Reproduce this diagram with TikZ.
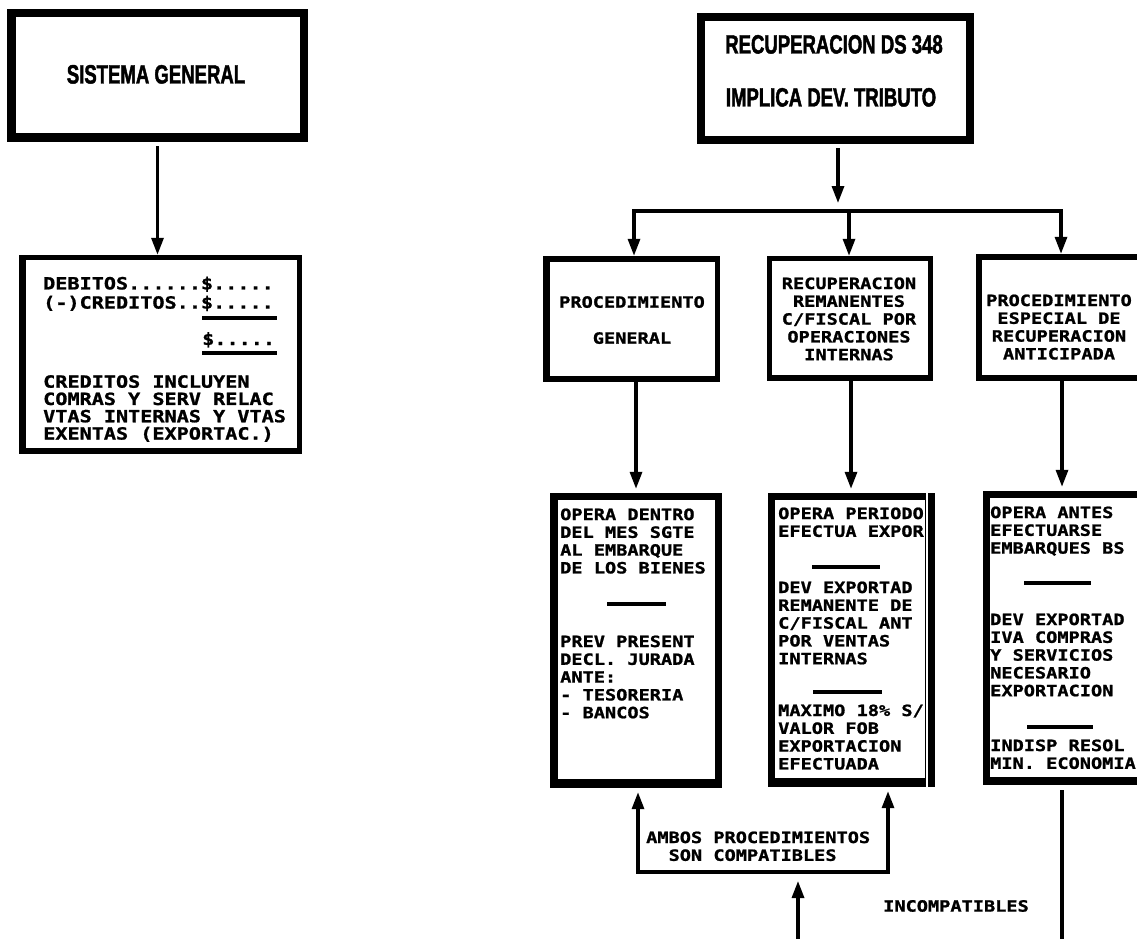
\documentclass[tikz,border=0pt]{standalone}
\usepackage{fontspec}
\usetikzlibrary{arrows.meta,fit,calc}
\newfontfamily\monof[FakeStretch=1.2,FakeBold=1.2]{DejaVu Sans Mono}
\newfontfamily\titlef[FakeStretch=0.7,FakeBold=1.6]{Liberation Sans}
% name, x1, y1, x2, y2, left, top, right, bottom border widths
\newcommand\tkbox[9]{%
  \fill[frame] (#2,#3) rectangle (#4,#5);
  \fill[inside] (#2+#6,#3+#7) rectangle (#4-#8,#5-#9);
  \node[fit={(#2,#3)(#4,#5)}, inner sep=0pt] (#1) {};
}
\tikzset{
  frame/.style={fill=black},
  inside/.style={fill=white},
  conn/.style={line width=3.2pt},
  arr/.style={conn, -{Triangle[length=17pt,width=12pt]}},
  rulebar/.style={line width=3.2pt},
  mono/.style={font=\monof\bfseries\fontsize{15.5}{17.8}\selectfont, inner sep=0pt},
  monobig/.style={font=\monof\bfseries\fontsize{16.8}{17.3}\selectfont, inner sep=0pt},
  titletext/.style={font=\titlef\bfseries\fontsize{26.5}{30}\selectfont, inner sep=0pt}
}
\begin{document}
\begin{tikzpicture}[x=1pt,y=-1pt]
\useasboundingbox (0,0) rectangle (1137,939);
\clip (0,0) rectangle (1137,939);
\fill[white] (0,0) rectangle (1137,939);

% ---------- boxes ----------
\tkbox{sg}{7}{9}{308}{142}{9}{8}{8}{9}
\tkbox{deb}{19}{255}{302}{454}{7}{5}{5}{6}
\tkbox{top}{697}{13}{974}{144}{8}{8}{8}{8}
\tkbox{l2a}{543}{256}{720}{382}{7}{6}{5}{6}
\tkbox{l2b}{767}{256}{933}{381}{5}{5}{5}{6}
\tkbox{l2c}{976}{254}{1150}{381}{6}{6}{6}{6}
\tkbox{l3a}{550}{493}{722}{788}{8}{7}{7}{9}
\tkbox{l3b}{768}{493}{935}{787}{7}{7}{10}{9}
\tkbox{l3c}{983}{491}{1150}{785}{7}{7}{7}{8}
\draw[white, line width=1.5pt] (927,493) -- (927,787);

% ---------- texts ----------
\node[titletext, anchor=base] (sgt) at (156,83.5) {SISTEMA GENERAL};
\node[titletext, anchor=base] (tt1) at (834,53.5) {RECUPERACION DS 348};
\node[titletext, anchor=base] (tt2) at (831,106.5) {IMPLICA DEV. TRIBUTO};

\node[monobig, anchor=base west] (d1) at (43,289.4) {DEBITOS......\$.....};
\node[monobig, anchor=base west] (d2) at (43,308.6) {(-)CREDITOS..\$.....};
\draw[rulebar] (202,318) -- (277,318);
\node[monobig, anchor=base west] (d3) at (202,345) {\$.....};
\draw[rulebar] (202,353) -- (277,353);
\node[monobig, anchor=north west, align=left] (d4) at (43,375) {CREDITOS INCLUYEN\\COMRAS Y SERV RELAC\\VTAS INTERNAS Y VTAS\\EXENTAS (EXPORTAC.)};

\node[mono, anchor=base] (l2at1) at (632,307.7) {PROCEDIMIENTO};
\node[mono, anchor=base] (l2at2) at (632,343.7) {GENERAL};
\node[mono, anchor=north, align=center] (l2bt) at (849,277.3) {RECUPERACION\\REMANENTES\\C/FISCAL POR\\OPERACIONES\\INTERNAS};
\node[mono, anchor=north, align=center] (l2ct) at (1059,294.3) {PROCEDIMIENTO\\ESPECIAL DE\\RECUPERACION\\ANTICIPADA};

\node[mono, anchor=north west, align=left] (l3a1) at (560,508.3) {OPERA DENTRO\\DEL MES SGTE\\AL EMBARQUE\\DE LOS BIENES};
\draw[rulebar] (607,604) -- (666,604);
\node[mono, anchor=north west, align=left] (l3a2) at (560,635.3) {PREV PRESENT\\DECL. JURADA\\ANTE:\\- TESORERIA\\- BANCOS};

\node[mono, anchor=north west, align=left] (l3b1) at (778,507.3) {OPERA PERIODO\\EFECTUA EXPOR};
\draw[rulebar] (812,567) -- (880,567);
\node[mono, anchor=north west, align=left] (l3b2) at (778,581.3) {DEV EXPORTAD\\REMANENTE DE\\C/FISCAL ANT\\POR VENTAS\\INTERNAS};
\draw[rulebar] (813,692) -- (882,692);
\node[mono, anchor=north west, align=left] (l3b3) at (778,704.3) {MAXIMO 18\% S/\\VALOR FOB\\EXPORTACION\\EFECTUADA};

\node[mono, anchor=north west, align=left] (l3c1) at (990,506.3) {OPERA ANTES\\EFECTUARSE\\EMBARQUES BS};
\draw[rulebar] (1024,583) -- (1091,583);
\node[mono, anchor=north west, align=left] (l3c2) at (990,613.3) {DEV EXPORTAD\\IVA COMPRAS\\Y SERVICIOS\\NECESARIO\\EXPORTACION};
\draw[rulebar] (1027,727) -- (1093,727);
\node[mono, anchor=north west, align=left] (l3c3) at (990,739.3) {INDISP RESOL\\MIN. ECONOMIA};

\node[mono, anchor=north west, align=left] (amb) at (646,831.3) {AMBOS PROCEDIMIENTOS\\\hphantom{SO}SON COMPATIBLES};
\node[mono, anchor=base] (inc) at (956,911.6) {INCOMPATIBLES};

% ---------- connectors ----------
\draw[arr] (sg.south) ++(0,4) -- (sg.south |- deb.north);

\coordinate (jt) at (838,211);
\coordinate (ja) at (634,211);
\coordinate (jb) at (849,211);
\coordinate (jc) at (1061,211);
\draw[arr] (jt |- top.south) ++(0,4) -- ([yshift=8pt]jt);
\draw[conn] ([xshift=-1.6pt]ja) -- ([xshift=1.6pt]jc);
\draw[arr] (ja) -- (ja |- l2a.north);
\draw[arr] (jb) -- (jb |- l2b.north);
\draw[arr] (jc) -- (jc |- l2c.north);

\coordinate (xa) at (636,0);
\coordinate (xb) at (851,0);
\coordinate (xc) at (1062,0);
\draw[arr, shorten >=4pt] (xa |- l2a.south) -- (xa |- l3a.north);
\draw[arr, shorten >=4pt] (xb |- l2b.south) -- (xb |- l3b.north);
\draw[arr, shorten >=4pt] (xc |- l2c.south) -- (xc |- l3c.north);

\coordinate (bl) at (638,872);
\coordinate (br) at (888,872);
\draw[conn] ([xshift=-1.6pt]bl) -- ([xshift=1.6pt]br);
\draw[arr, shorten >=4pt] (bl) -- (bl |- l3a.south);
\draw[arr, shorten >=4pt] (br) -- (br |- l3b.south);

\coordinate (up0) at (798,945);
\draw[arr, shorten >=9pt] (up0) -- (up0 |- bl);

\coordinate (ic) at (1062,945);
\draw[conn] (ic |- l3c.south) ++(0,5) -- (ic);
\end{tikzpicture}
\end{document}
